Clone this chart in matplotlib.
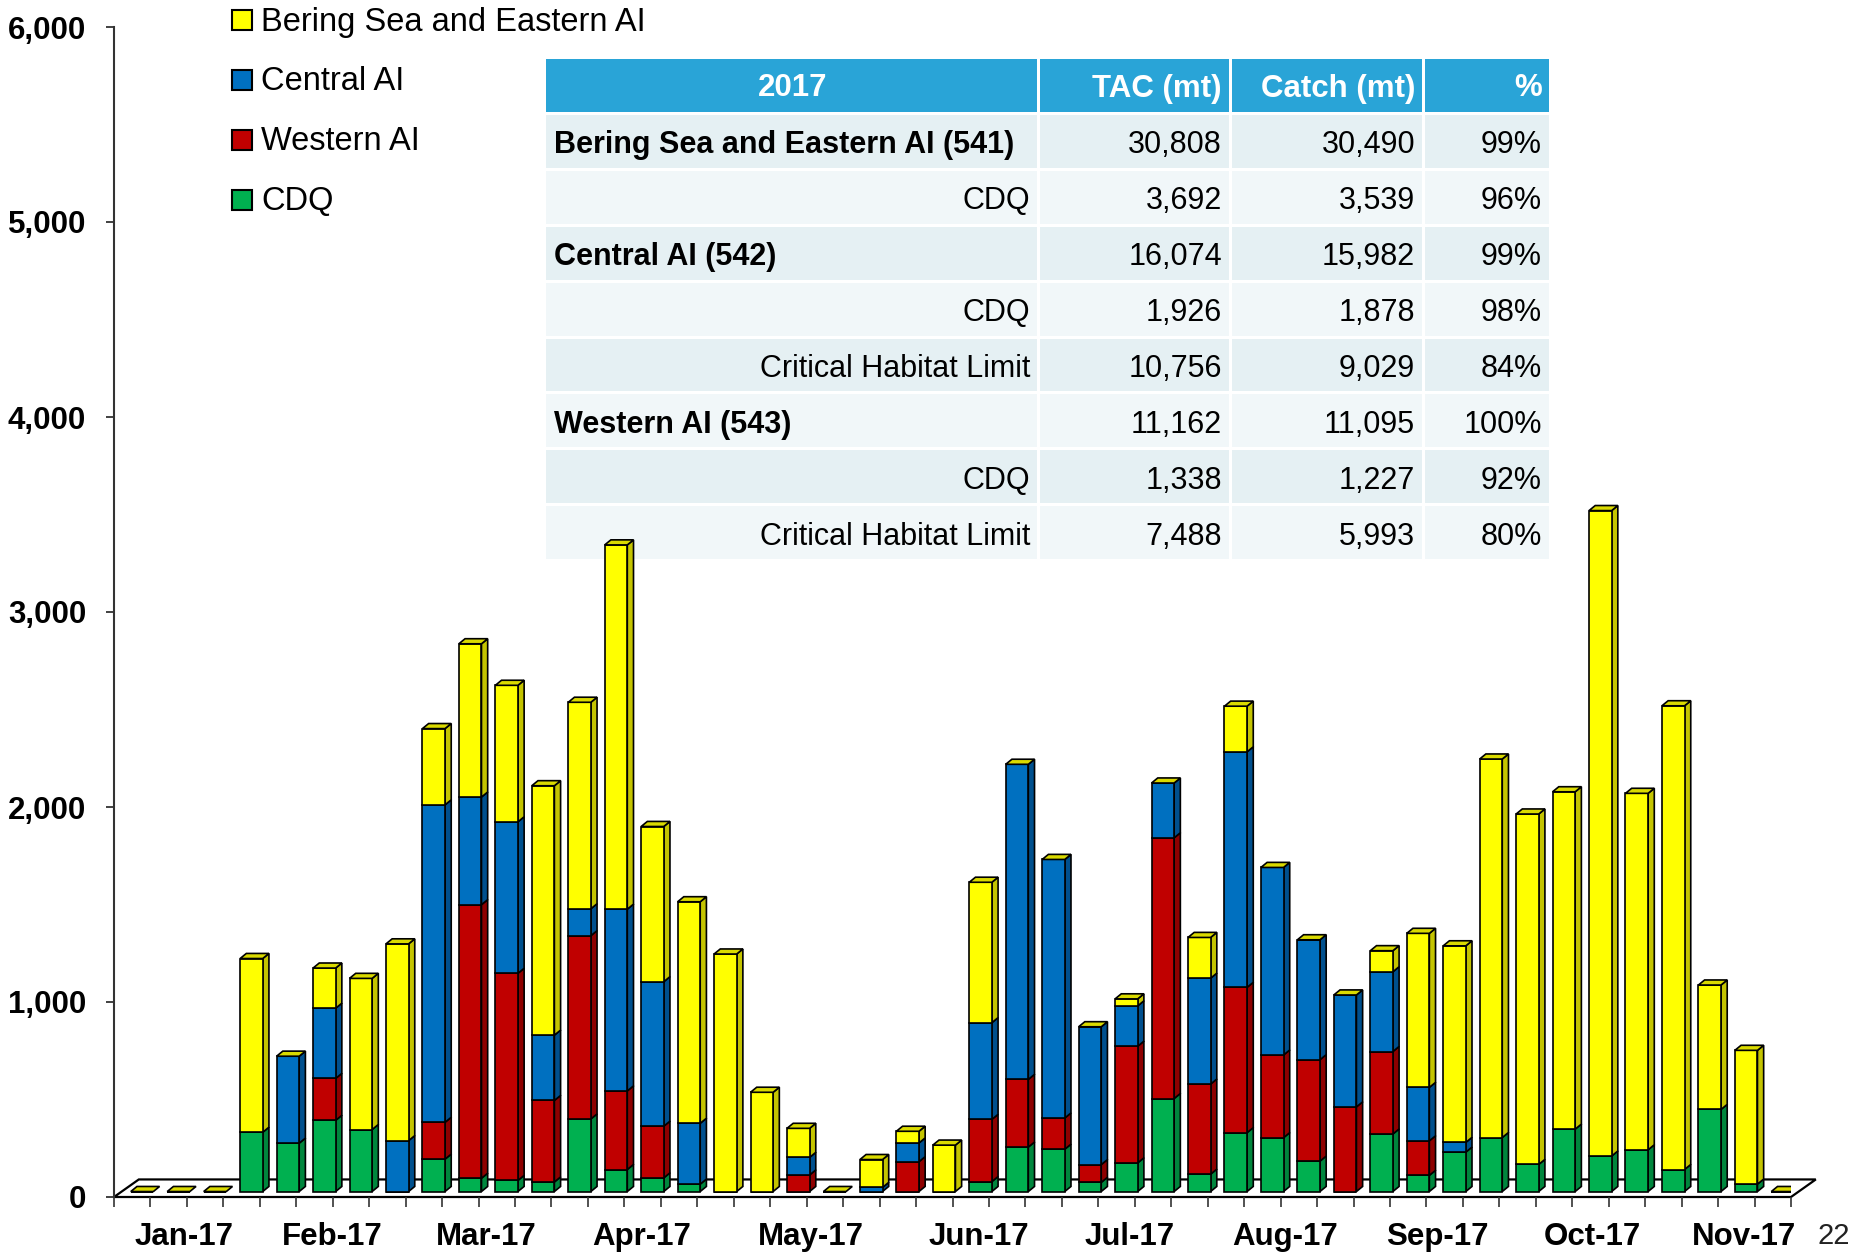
import numpy as np
import matplotlib
matplotlib.use('Agg')
import matplotlib.pyplot as plt
from matplotlib.patches import Polygon, Rectangle

plt.rcParams['font.family'] = ['Liberation Sans', 'DejaVu Sans']

# weekly catch (mt), Jan-17 .. Nov-17, stacked bottom -> top
cdq = [0, 0, 0, 304, 248, 365, 318, 0, 166, 68, 57, 49, 372, 113, 70, 38,
       0, 0, 0, 0, 0, 0, 0, 51, 228, 217, 47, 147, 477, 89, 302, 276,
       156, 0, 295, 83, 202, 277, 139, 320, 182, 214, 113, 421, 38, 0]
western = [0, 0, 0, 0, 0, 215, 0, 0, 189, 1403, 1062, 418, 940, 403, 265, 0,
           0, 0, 85, 0, 0, 153, 0, 319, 347, 160, 91, 598, 1337, 462, 745, 424,
           520, 434, 423, 177, 0, 0, 0, 0, 0, 0, 0, 0, 0, 0]
central = [0, 0, 0, 0, 446, 360, 0, 261, 1628, 552, 777, 335, 138, 932, 741, 312,
           0, 0, 90, 0, 21, 96, 0, 496, 1616, 1326, 707, 207, 281, 543, 1208, 962,
           615, 574, 409, 274, 50, 0, 0, 0, 0, 0, 0, 0, 0, 0]
bering = [0, 0, 0, 891, 0, 206, 775, 1009, 391, 786, 700, 1279, 1059, 1868, 796, 1136,
          1218, 509, 149, 0, 143, 60, 238, 720, 0, 0, 0, 36, 0, 209, 234, 0,
          0, 0, 108, 790, 1008, 1941, 1797, 1730, 3310, 1828, 2378, 638, 686, 0]

months = ['Jan-17', 'Feb-17', 'Mar-17', 'Apr-17', 'May-17', 'Jun-17',
          'Jul-17', 'Aug-17', 'Sep-17', 'Oct-17', 'Nov-17']
month_pos = [1.42, 5.48, 9.70, 13.98, 18.62, 23.22, 27.37, 31.62, 35.81, 40.04, 44.2]

# table
tab_head = ['2017', 'TAC (mt)', 'Catch (mt)', '%']
tab_rows = ['Bering Sea and Eastern AI (541)', 'CDQ', 'Central AI (542)', 'CDQ',
            'Critical Habitat Limit', 'Western AI (543)', 'CDQ', 'Critical Habitat Limit']
is_area = [True, False, True, False, False, True, False, False]
tac = ['30,808', '3,692', '16,074', '1,926', '10,756', '11,162', '1,338', '7,488']
catch = ['30,490', '3,539', '15,982', '1,878', '9,029', '11,095', '1,227', '5,993']
pct = ['99%', '96%', '99%', '98%', '84%', '100%', '92%', '80%']

series = [('CDQ', cdq, '#00B050', '#00863D'),
          ('Western AI', western, '#C00000', '#8E0000'),
          ('Central AI', central, '#0070C0', '#00508E'),
          ('Bering Sea and Eastern AI', bering, '#FFFF00', '#C4C400')]

W, H = 1860, 1252
fig = plt.figure(figsize=(W / 100, H / 100), dpi=100)

# table first, so the bars can be drawn over it
tw, th = 1006, 503
tab = fig.add_axes([546 / W, 1 - 562 / H, tw / W, th / H])
tab.set_zorder(0)
tab.set_xlim(0, tw)
tab.set_ylim(th, 0)
tab.axis('off')
col_edges = [0, 494, 686, 879, tw]
head_h = 53
gap = 3
row_h = (th - head_h - gap) / len(tab_rows)
for j in range(4):
    cl, cr = col_edges[j], col_edges[j + 1]
    tab.add_patch(Rectangle((cl, 0), cr - cl - gap, head_h, fc='#29A4D7', ec='none'))
    if j == 0:
        tab.text((cl + cr) / 2, head_h / 2 + 3, tab_head[j], ha='center', va='center',
                 color='white', fontsize=22.5, fontweight='bold')
    else:
        tab.text(cr - gap - 7, head_h / 2 + 3, tab_head[j], ha='right', va='center',
                 color='white', fontsize=22.5, fontweight='bold')
for i, lab in enumerate(tab_rows):
    y0 = head_h + gap + i * row_h
    fc = '#E5F0F3' if i % 2 == 0 else '#F1F7F9'
    vals = [lab, tac[i], catch[i], pct[i]]
    for j in range(4):
        cl, cr = col_edges[j], col_edges[j + 1]
        tab.add_patch(Rectangle((cl, y0), cr - cl - gap, row_h - gap, fc=fc, ec='none'))
        yc = y0 + (row_h - gap) / 2 + 4
        if j == 0 and is_area[i]:
            tab.text(cl + 8, yc, vals[j], ha='left', va='center', fontsize=22,
                     fontweight='bold', color='black')
        else:
            tab.text(cr - gap - 7, yc, vals[j], ha='right', va='center', fontsize=22,
                     color='black')

ax = fig.add_axes([114 / W, 55 / H, 1677 / W, 1170 / H])
ax.set_zorder(1)
ax.patch.set_visible(False)

n = len(cdq)
base = 28.0      # bars sit a little behind the front edge of the floor
shift = 0.27
bw = 0.62
dx, dy = 0.17, 26.0
fdx, fdy = 0.68, 90.0

x = np.arange(n) + shift
bottom = np.full(n, base)
for name, vals, fc, sc in series:
    v = np.array(vals, dtype=float)
    ax.bar(x, v, bw, bottom=bottom, color=fc, edgecolor='black', linewidth=1.2, zorder=3)
    for xi, b, h in zip(x, bottom, v):
        if h <= 0:
            continue
        r = xi + bw / 2
        side = [(r, b), (r + dx, b + dy), (r + dx, b + h + dy), (r, b + h)]
        ax.add_patch(Polygon(side, closed=True, fc=sc, ec='black', lw=1.2, zorder=2.5))
    bottom = bottom + v

for xi, t in zip(x, bottom):
    l, r = xi - bw / 2, xi + bw / 2
    top = [(l, t), (r, t), (r + dx, t + dy), (l + dx, t + dy)]
    ax.add_patch(Polygon(top, closed=True, fc='#DADA00', ec='black', lw=1.2, zorder=3.5))

# floor
x0, x1 = -0.5, n - 0.5
floor = [(x0, 0), (x1, 0), (x1 + fdx, fdy), (x0 + fdx, fdy)]
ax.add_patch(Polygon(floor, closed=True, fc='white', ec='black', lw=1.6, zorder=1, clip_on=False))

ax.set_xlim(x0, x1)
ax.set_ylim(0, 6000)
for s in ['top', 'right', 'bottom']:
    ax.spines[s].set_visible(False)
ax.spines['left'].set_linewidth(1.5)
ax.spines['left'].set_color('#333333')

ax.set_yticks(range(0, 6001, 1000))
ax.set_yticklabels(['{:,}'.format(v) for v in range(0, 6001, 1000)],
                   fontsize=22.5, fontweight='bold')
ax.tick_params(axis='y', length=6, width=1.3, pad=14, color='#333333')

ax.set_xticks(month_pos)
ax.set_xticklabels(months, fontsize=22.5, fontweight='bold')
ax.set_xticks(np.arange(n + 1) - 0.5, minor=True)
ax.tick_params(axis='x', which='major', length=0, pad=18)
ax.tick_params(axis='x', which='minor', length=7, width=1.2, color='#333333')

# legend, drawn by hand: square swatch + label
for k, (name, vals, fc, sc) in enumerate(series[::-1]):
    yc = 20 + 60 * k
    fig.patches.append(Rectangle((232 / W, 1 - (yc + 10) / H), 20 / W, 20 / H,
                                 transform=fig.transFigure, fc=fc, ec='black', lw=1.5))
    fig.text(261 / W, 1 - (yc + 2) / H, name, ha='left', va='center', fontsize=23.5)

fig.text(1834 / W, 1 - 1236 / H, '22', ha='center', va='center', fontsize=21, color='#222222')

fig.savefig('out.png', dpi=100)
